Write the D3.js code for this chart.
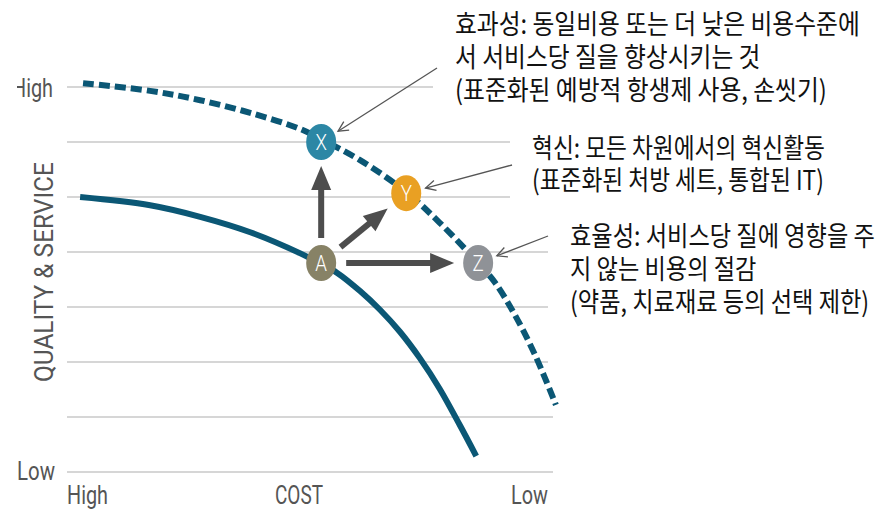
<!DOCTYPE html>
<html>
<head>
<meta charset="utf-8">
<script src="https://cdn.jsdelivr.net/npm/d3@7"></script>
<style>
  body { margin: 0; background: #fff; }
  #chart { width: 889px; height: 510px; }
  .axisText { font-family: Roboto, sans-serif; fill: #555; font-size: 25px; }
  .note { font-family: "Noto Sans CJK KR", sans-serif; fill: #111; font-size: 27px; }
</style>
</head>
<body>
<div id="chart"></div>
<script>
// quality gridlines (0 = Low ... 7 = High)
var gridTicks = [0, 1, 2, 3, 4, 5, 6, 7];

// dashed frontier (improved)
var frontierCost    = [0.33, 1.71, 2.74, 3.77, 4.79, 5.23, 6.03, 6.98, 7.67, 8.46, 8.81, 9.22, 9.63, 10.06];
var frontierQuality = [7.07, 6.93, 6.76, 6.53, 6.24, 6.05, 5.67, 5.09, 4.53, 3.80, 3.44, 2.85, 2.13, 1.22];

// solid frontier (current)
var currentCost    = [0.27, 1.71, 2.74, 3.77, 4.79, 5.23, 5.56, 6.03, 6.44, 6.85, 7.26, 7.67, 8.09, 8.42];
var currentQuality = [5.00, 4.85, 4.64, 4.36, 3.98, 3.78, 3.62, 3.29, 2.95, 2.55, 2.07, 1.51, 0.84, 0.29];

var pointNames   = ["A", "X", "Y", "Z"];
var pointCost    = [5.23, 5.23, 6.98, 8.46];
var pointQuality = [3.80, 6.00, 5.07, 3.80];
var pointColors  = ["#878266", "#2c87a5", "#e9a023", "#8f9297"];

var moves = [["A", "X"], ["A", "Y"], ["A", "Z"]];

var xLabels = ["High", "COST", "Low"];
var yLabels = ["Low", "High"];
var yTitle = "QUALITY & SERVICE";

var notes = [
    {target: "X", from: [437, 68], x: 455, y: 34, gap: 33, len: 405,
     lines: ["효과성: 동일비용 또는 더 낮은 비용수준에", "서 서비스당 질을 향상시키는 것", "(표준화된 예방적 항생제 사용, 손씻기)"]},
    {target: "Y", from: [512, 165], x: 532, y: 158, gap: 32, len: 293,
     lines: ["혁신: 모든 차원에서의 혁신활동", "(표준화된 처방 세트, 통합된 IT)"]},
    {target: "Z", from: [548, 236], x: 570, y: 246, gap: 33, len: 305,
     lines: ["효율성: 서비스당 질에 영향을 주", "지 않는 비용의 절감", "(약품, 치료재료 등의 선택 제한)"]}
];

var width = 889, height = 510;
var svg = d3.select("#chart").append("svg")
    .attr("width", width)
    .attr("height", height);

var xScale = d3.scaleLinear().domain([0, 10]).range([67, 553]);
var yScale = d3.scaleLinear().domain([0, 7]).range([472, 87]);

// squeeze a text horizontally so that it is w pixels wide, left edge at x
function fit(sel, x, y, w) {
    sel.attr("x", 0).attr("y", 0);
    var L = sel.node().getComputedTextLength();
    sel.attr("transform", "translate(" + x + "," + y + ") scale(" + (w / L) + ",1)");
    return sel;
}

// gridlines
svg.selectAll("line.grid")
    .data(gridTicks)
    .enter()
    .append("line")
        .attr("class", "grid")
        .attr("x1", xScale(0))
        .attr("x2", xScale(10))
        .attr("y1", function(d) { return yScale(d); })
        .attr("y2", function(d) { return yScale(d); })
        .attr("stroke", "#c9c9c9")
        .attr("stroke-width", 1.5);

// white boxes behind the notes
var boxes = [[433, 0, 456, 110], [510, 118, 379, 90], [548, 208, 341, 170]];
svg.selectAll("rect.box")
    .data(boxes)
    .enter()
    .append("rect")
        .attr("x", function(d) { return d[0]; })
        .attr("y", function(d) { return d[1]; })
        .attr("width", function(d) { return d[2]; })
        .attr("height", function(d) { return d[3]; })
        .attr("fill", "#fff");

var line = d3.line()
    .x(function(d) { return xScale(d[0]); })
    .y(function(d) { return yScale(d[1]); })
    .curve(d3.curveCatmullRom);

svg.append("path")
    .datum(d3.zip(currentCost, currentQuality))
    .attr("d", line)
    .attr("fill", "none")
    .attr("stroke", "#0b5775")
    .attr("stroke-width", 6);

svg.append("path")
    .datum(d3.zip(frontierCost, frontierQuality))
    .attr("d", line)
    .attr("fill", "none")
    .attr("stroke", "#0b5775")
    .attr("stroke-width", 6)
    .attr("stroke-dasharray", "11,5");

function pos(name) {
    var i = pointNames.indexOf(name);
    return [xScale(pointCost[i]), yScale(pointQuality[i])];
}

// thick arrows from A
moves.forEach(function(m) {
    var a = pos(m[0]), b = pos(m[1]);
    var dx = b[0] - a[0], dy = b[1] - a[1];
    var L = Math.sqrt(dx * dx + dy * dy);
    var ux = dx / L, uy = dy / L;
    var s = [a[0] + ux * 25, a[1] + uy * 25];
    var t = [b[0] - ux * 24, b[1] - uy * 24];
    var hb = [t[0] - ux * 24, t[1] - uy * 24];
    svg.append("line")
        .attr("x1", s[0]).attr("y1", s[1])
        .attr("x2", hb[0] + ux * 2).attr("y2", hb[1] + uy * 2)
        .attr("stroke", "#4d4d4d")
        .attr("stroke-width", 6);
    svg.append("polygon")
        .attr("points", [t, [hb[0] - uy * 10, hb[1] + ux * 10], [hb[0] + uy * 10, hb[1] - ux * 10]].join(" "))
        .attr("fill", "#4d4d4d");
});

// points
var pts = svg.selectAll("g.pt")
    .data(pointNames)
    .enter()
    .append("g")
        .attr("class", "pt")
        .attr("transform", function(d) { return "translate(" + pos(d) + ")"; });

pts.append("ellipse")
    .attr("rx", 15)
    .attr("ry", 18)
    .attr("fill", function(d, i) { return pointColors[i]; });

pts.append("text")
    .attr("text-anchor", "middle")
    .attr("y", 8)
    .attr("font-family", "Roboto, sans-serif")
    .attr("font-weight", 300)
    .attr("font-size", 22)
    .attr("fill", "#fff")
    .attr("transform", "scale(0.85,1)")
    .text(function(d) { return d; });

// notes and leader lines
notes.forEach(function(n) {
    var p = pos(n.target);
    var dx = n.from[0] - p[0], dy = n.from[1] - p[1];
    var L = Math.sqrt(dx * dx + dy * dy);
    var ux = dx / L, uy = dy / L;
    var tip = [p[0] + ux * 20, p[1] + uy * 20];
    svg.append("line")
        .attr("x1", n.from[0]).attr("y1", n.from[1])
        .attr("x2", tip[0]).attr("y2", tip[1])
        .attr("stroke", "#555")
        .attr("stroke-width", 1.3);
    var back = [tip[0] + ux * 10, tip[1] + uy * 10];
    svg.append("polyline")
        .attr("points", [[back[0] - uy * 5, back[1] + ux * 5], tip, [back[0] + uy * 5, back[1] - ux * 5]].join(" "))
        .attr("fill", "none")
        .attr("stroke", "#555")
        .attr("stroke-width", 1.3);

    // one text per note; all lines share the squeeze of the first line
    var txt = svg.append("text").attr("class", "note");
    var spans = txt.selectAll("tspan")
        .data(n.lines)
        .enter()
        .append("tspan")
            .attr("x", 0)
            .attr("y", function(d, i) { return i * n.gap; })
            .text(function(d) { return d; });
    var first = spans.node().getComputedTextLength();
    txt.attr("transform", "translate(" + n.x + "," + n.y + ") scale(" + (n.len / first) + ",1)");
});

// axis labels
svg.append("clipPath").attr("id", "leftClip")
    .append("rect").attr("x", 17).attr("y", 0).attr("width", 100).attr("height", 510);

fit(svg.append("g").attr("clip-path", "url(#leftClip)")
        .append("text").attr("class", "axisText").text(yLabels[1]),
    12, yScale(7) + 10, 41);
fit(svg.append("text").attr("class", "axisText").text(yLabels[0]), 17, yScale(0) + 8, 38);

fit(svg.append("text").attr("class", "axisText").text(xLabels[0]), 67, 504, 41);
fit(svg.append("text").attr("class", "axisText").text(xLabels[1]), 275, 504, 48);
fit(svg.append("text").attr("class", "axisText").text(xLabels[2]), 511, 504, 37);

var title = svg.append("text").attr("class", "axisText").text(yTitle);
var tl = title.node().getComputedTextLength();
title.attr("transform", "translate(53,382) rotate(-90) scale(" + (220 / tl) + ",1)");
</script>
</body>
</html>
